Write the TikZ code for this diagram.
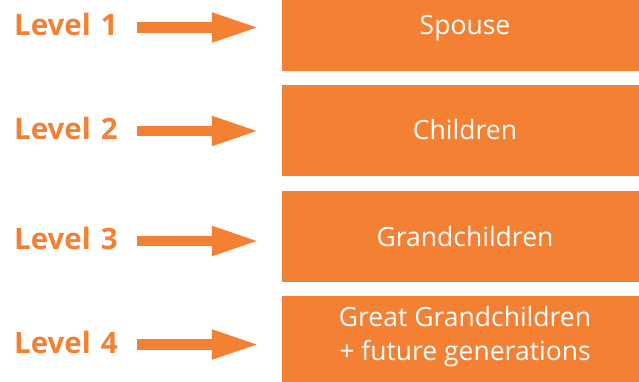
\documentclass[tikz,border=0pt]{standalone}
\usepackage{fontspec}
\setmainfont{Open Sans}
\usetikzlibrary{arrows.meta,positioning}
\definecolor{famorange}{HTML}{F48133}
\tikzset{>={Triangle[length=48pt,width=27pt]}}

\begin{document}
\begin{tikzpicture}[x=1pt,y=-1pt,
					levelbox/.style={fill=famorange,minimum width=366pt,minimum height=91pt,inner sep=0pt,text=white,font=\fontsize{26.5}{33}\selectfont,text height=19pt,text depth=0pt},
					boxtext/.style={text=white,inner sep=0pt,align=center,font=\fontsize{26.5}{34}\selectfont},
					level/.style={text=famorange,font=\bfseries\fontsize{29.5}{30}\selectfont,text width=123pt,align=left,inner sep=0pt,anchor=base west},
					levelarrow/.style={->,draw=famorange,line width=10.5pt,shorten >=22pt}
				]
				\useasboundingbox (0,0) rectangle (639,382);
				\node (spouse) at (465,25.5) [levelbox]{Spouse};
				\node (children) at (465,130.5) [levelbox]{Children};
				\node (grand) at (465,236.5) [levelbox]{Grandchildren};
				\node (great) at (465,341.5) [levelbox]{};
				\node (greattext) at (465,337) [boxtext]{Great Grandchildren\\+ future generations};
				\node (lvone) at (14,36) [level]{Level 1};
				\node (lvtwo) at (14,140) [level]{Level 2};
				\node (lvthree) at (14,249) [level]{Level 3};
				\node (lvfour) at (14,353) [level]{Level 4};
				\draw [levelarrow] ([yshift=8.5pt]lvone.base east) -- ([yshift=8.5pt]lvone.base east -| spouse.west);
				\draw [levelarrow] ([yshift=9pt]lvtwo.base east) -- ([yshift=9pt]lvtwo.base east -| children.west);
				\draw [levelarrow] ([yshift=8pt]lvthree.base east) -- ([yshift=8pt]lvthree.base east -| grand.west);
				\draw [levelarrow] ([yshift=8.5pt]lvfour.base east) -- ([yshift=8.5pt]lvfour.base east -| great.west);
				\end{tikzpicture}
\end{document}
